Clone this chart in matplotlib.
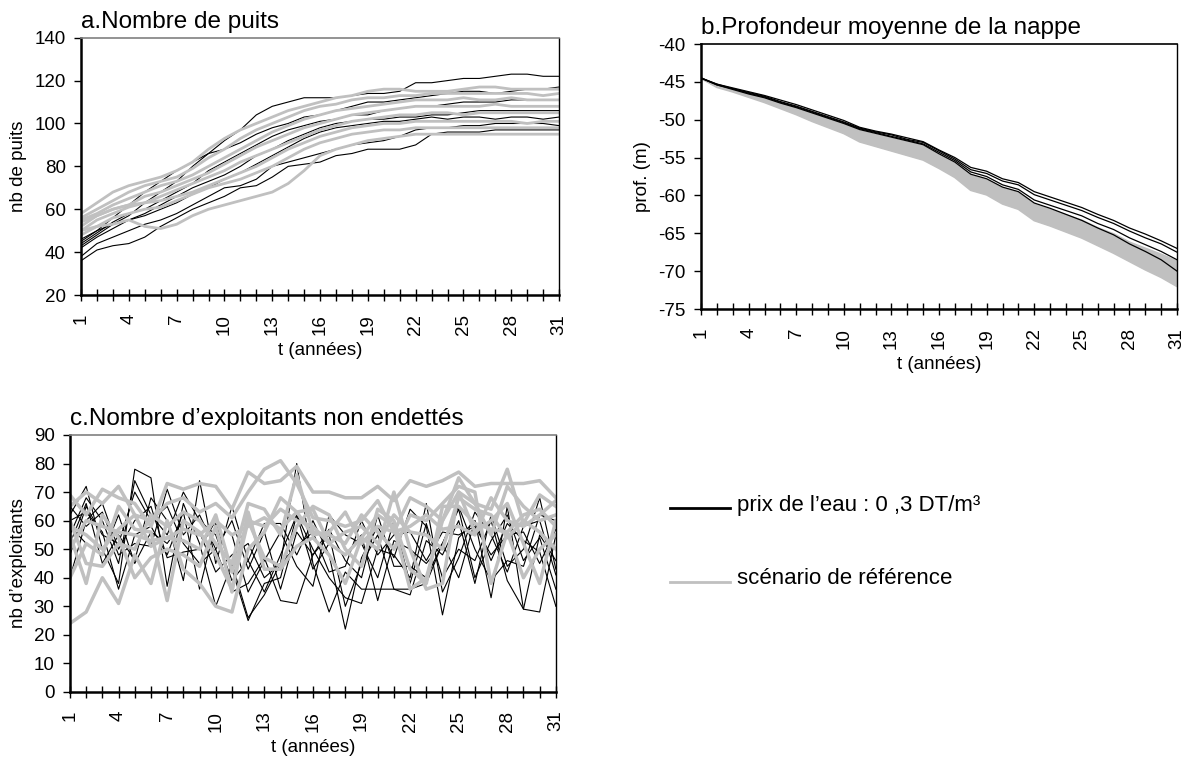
import matplotlib
matplotlib.use('Agg')
import matplotlib.pyplot as plt
from matplotlib.lines import Line2D

plt.rcParams['font.family'] = ['Liberation Sans', 'DejaVu Sans']
plt.rcParams['axes.unicode_minus'] = False

t = list(range(1, 32))
xtick_labels = [1, 4, 7, 10, 13, 16, 19, 22, 25, 28, 31]

# a. nombre de puits
a_black = [
    [45, 50, 56, 62, 68, 73, 78, 82, 86, 92, 97, 104, 108, 110, 112, 112, 112, 113, 114, 114, 115, 119, 119, 120, 121, 121, 122, 123, 123, 122, 122],
    [43, 48, 53, 57, 63, 68, 73, 80, 86, 88, 91, 95, 98, 100, 103, 104, 106, 108, 110, 110, 111, 112, 113, 114, 115, 115, 114, 115, 116, 116, 117],
    [44, 49, 54, 58, 60, 64, 68, 72, 78, 82, 86, 90, 94, 97, 99, 101, 102, 104, 104, 106, 107, 108, 108, 109, 110, 110, 110, 111, 111, 111, 111],
    [42, 47, 51, 55, 58, 62, 66, 70, 73, 76, 80, 85, 88, 92, 95, 98, 100, 101, 102, 102, 103, 103, 104, 104, 105, 106, 106, 106, 106, 106, 106],
    [46, 50, 53, 55, 57, 60, 63, 67, 70, 74, 77, 81, 85, 89, 93, 96, 98, 99, 100, 101, 101, 102, 103, 102, 103, 103, 102, 103, 103, 102, 103],
    [38, 44, 47, 50, 53, 55, 58, 62, 66, 70, 71, 74, 80, 82, 84, 86, 88, 90, 91, 92, 94, 97, 98, 98, 99, 99, 100, 100, 100, 100, 99],
    [36, 41, 43, 44, 47, 52, 56, 60, 63, 66, 70, 71, 75, 80, 81, 82, 85, 86, 88, 88, 88, 90, 95, 96, 96, 96, 97, 97, 97, 97, 97],
]
a_grey = [
    [58, 63, 68, 71, 73, 75, 78, 82, 88, 93, 97, 100, 103, 106, 108, 110, 112, 113, 115, 116, 116, 115, 115, 115, 116, 117, 117, 116, 116, 116, 116],
    [56, 60, 64, 68, 71, 73, 75, 79, 84, 88, 93, 97, 100, 103, 106, 108, 109, 111, 112, 112, 113, 113, 114, 114, 114, 114, 114, 114, 114, 113, 114],
    [55, 58, 62, 65, 68, 71, 73, 76, 80, 84, 88, 92, 96, 99, 102, 104, 106, 107, 108, 109, 110, 111, 111, 111, 112, 111, 111, 112, 111, 111, 111],
    [52, 57, 60, 62, 66, 68, 71, 74, 77, 81, 85, 89, 92, 95, 98, 100, 102, 104, 105, 106, 107, 108, 108, 108, 108, 108, 109, 108, 108, 108, 108],
    [50, 55, 58, 61, 63, 66, 69, 72, 75, 78, 82, 85, 88, 91, 94, 97, 99, 101, 102, 103, 104, 104, 105, 105, 104, 105, 105, 105, 105, 105, 105],
    [54, 57, 60, 62, 63, 64, 66, 68, 71, 74, 77, 80, 84, 88, 91, 94, 96, 98, 99, 100, 100, 101, 101, 101, 101, 101, 101, 101, 100, 101, 101],
    [48, 52, 56, 58, 60, 61, 64, 67, 70, 72, 74, 77, 80, 84, 88, 91, 93, 95, 96, 97, 97, 98, 98, 98, 98, 98, 98, 98, 98, 98, 98],
    [50, 52, 53, 55, 52, 51, 53, 57, 60, 62, 64, 66, 68, 72, 78, 85, 88, 90, 92, 93, 94, 95, 95, 95, 95, 95, 95, 95, 95, 95, 95],
]

# b. profondeur moyenne de la nappe
b_black = [
    [-44.5, -45.3, -45.8, -46.3, -46.8, -47.4, -48.0, -48.7, -49.4, -50.1, -51.0, -51.5, -51.9, -52.4, -52.9, -54.0, -55.0, -56.3, -56.8, -57.8, -58.3, -59.5, -60.2, -60.9, -61.6, -62.5, -63.3, -64.3, -65.1, -66.0, -67.0],
    [-44.5, -45.3, -45.9, -46.4, -46.9, -47.6, -48.2, -48.9, -49.6, -50.3, -51.1, -51.6, -52.0, -52.6, -53.0, -54.1, -55.2, -56.6, -57.1, -58.1, -58.6, -59.9, -60.6, -61.3, -62.0, -62.9, -63.7, -64.7, -65.6, -66.4, -67.5],
    [-44.5, -45.4, -45.9, -46.5, -47.0, -47.7, -48.3, -49.0, -49.7, -50.4, -51.2, -51.7, -52.2, -52.7, -53.2, -54.3, -55.4, -56.9, -57.5, -58.6, -59.2, -60.6, -61.3, -62.0, -62.7, -63.7, -64.5, -65.6, -66.5, -67.4, -68.5],
    [-44.5, -45.4, -46.0, -46.6, -47.1, -47.8, -48.4, -49.1, -49.8, -50.5, -51.3, -51.8, -52.3, -52.8, -53.3, -54.5, -55.6, -57.2, -57.8, -58.9, -59.5, -61.0, -61.7, -62.5, -63.3, -64.3, -65.2, -66.4, -67.4, -68.5, -70.0],
]
b_grey = [
    [-44.5, -45.4, -46.0, -46.6, -47.1, -47.8, -48.5, -49.2, -49.9, -50.6, -51.5, -52.0, -52.5, -53.0, -53.5, -54.7, -55.8, -57.4, -58.0, -59.1, -59.7, -61.2, -61.9, -62.6, -63.3, -64.3, -65.1, -66.2, -67.0, -67.8, -68.7],
    [-44.5, -45.5, -46.1, -46.8, -47.3, -48.0, -48.8, -49.6, -50.3, -51.0, -52.0, -52.5, -53.1, -53.6, -54.2, -55.3, -56.5, -58.1, -58.7, -59.9, -60.5, -62.0, -62.7, -63.5, -64.2, -65.2, -66.1, -67.2, -68.1, -69.0, -70.0],
    [-44.5, -45.6, -46.2, -46.9, -47.5, -48.3, -49.1, -49.9, -50.7, -51.4, -52.5, -53.0, -53.6, -54.2, -54.8, -55.9, -57.1, -58.7, -59.3, -60.5, -61.2, -62.7, -63.4, -64.2, -64.9, -65.9, -66.9, -68.0, -69.0, -70.0, -71.1],
    [-44.5, -45.7, -46.3, -47.0, -47.7, -48.5, -49.3, -50.2, -51.0, -51.8, -52.9, -53.5, -54.1, -54.7, -55.3, -56.4, -57.6, -59.3, -59.9, -61.1, -61.8, -63.3, -64.0, -64.8, -65.6, -66.6, -67.6, -68.7, -69.8, -70.8, -72.0],
]

# c. nombre d'exploitants non endettes
c_black = [
    [62, 72, 50, 38, 78, 75, 37, 66, 52, 30, 45, 26, 34, 45, 80, 45, 28, 42, 36, 36, 36, 36, 38, 52, 40, 60, 33, 65, 29, 28, 55],
    [55, 68, 60, 45, 74, 62, 55, 70, 60, 55, 39, 46, 59, 59, 48, 60, 48, 22, 47, 58, 47, 64, 58, 27, 54, 60, 46, 59, 53, 49, 30],
    [48, 65, 55, 52, 70, 60, 65, 52, 45, 50, 35, 38, 47, 32, 31, 48, 55, 30, 45, 55, 36, 34, 53, 48, 60, 38, 62, 44, 50, 68, 43],
    [60, 63, 56, 36, 55, 58, 48, 63, 36, 59, 43, 25, 38, 40, 62, 50, 40, 33, 31, 50, 48, 40, 66, 35, 47, 63, 55, 42, 58, 60, 41],
    [52, 66, 45, 55, 46, 68, 60, 39, 74, 45, 65, 46, 35, 48, 62, 43, 52, 48, 55, 32, 53, 50, 45, 52, 64, 40, 53, 62, 46, 54, 36],
    [65, 58, 63, 48, 52, 51, 71, 55, 62, 50, 60, 43, 56, 36, 56, 48, 57, 46, 40, 62, 44, 44, 40, 52, 65, 50, 39, 46, 44, 62, 60],
    [40, 60, 66, 50, 60, 65, 47, 49, 50, 60, 55, 35, 46, 56, 44, 37, 62, 55, 52, 40, 60, 38, 59, 40, 50, 46, 60, 39, 29, 55, 46],
    [58, 52, 48, 62, 45, 56, 52, 60, 56, 42, 48, 52, 40, 45, 51, 56, 42, 44, 60, 48, 55, 56, 46, 56, 55, 58, 48, 55, 56, 45, 57],
]
c_grey = [
    [69, 62, 71, 68, 66, 58, 73, 71, 73, 72, 64, 77, 73, 74, 79, 70, 70, 68, 68, 72, 67, 74, 72, 74, 77, 72, 73, 73, 73, 74, 68],
    [65, 70, 66, 72, 62, 60, 66, 68, 63, 66, 61, 70, 78, 81, 73, 61, 60, 58, 60, 67, 56, 68, 65, 60, 75, 66, 64, 78, 59, 69, 65],
    [24, 28, 40, 31, 48, 38, 60, 43, 38, 30, 28, 50, 56, 68, 63, 64, 52, 48, 54, 62, 58, 36, 40, 60, 70, 66, 55, 72, 65, 60, 62],
    [40, 52, 48, 65, 57, 56, 32, 60, 56, 48, 36, 60, 47, 44, 58, 65, 62, 50, 44, 64, 60, 43, 38, 65, 65, 59, 57, 56, 40, 50, 55],
    [55, 38, 62, 54, 40, 47, 50, 48, 44, 58, 35, 63, 43, 43, 51, 54, 48, 38, 54, 50, 70, 50, 36, 38, 70, 56, 60, 66, 52, 38, 60],
    [60, 45, 44, 52, 50, 62, 58, 63, 60, 52, 45, 66, 64, 55, 76, 56, 55, 52, 62, 56, 50, 62, 60, 66, 72, 70, 38, 56, 62, 64, 58],
    [50, 60, 58, 56, 55, 53, 54, 53, 50, 62, 42, 60, 58, 64, 60, 58, 52, 56, 58, 52, 62, 56, 55, 50, 68, 64, 62, 54, 60, 56, 50],
    [58, 55, 50, 57, 62, 51, 54, 57, 55, 60, 55, 58, 61, 57, 63, 55, 56, 63, 52, 58, 56, 58, 62, 57, 58, 55, 68, 60, 58, 62, 67],
]

GREY = '#c0c0c0'


def style_axis(ax, title, ylabel, ylim, ystep, top_color):
    ax.set_xlim(1, 31)
    ax.set_ylim(*ylim)
    ax.set_xticks(t)
    ax.set_xticklabels([str(v) if v in xtick_labels else '' for v in t], rotation=90)
    ax.set_yticks(list(range(ylim[0], ylim[1] + 1, ystep)))
    ax.tick_params(axis='x', direction='inout', length=9, width=1, labelsize=13.5, pad=9)
    ax.tick_params(axis='y', direction='out', length=5, width=1, labelsize=13.5, pad=6)
    ax.set_title(title, loc='left', fontsize=17.5, pad=7)
    ax.set_ylabel(ylabel, fontsize=13.5, labelpad=5)
    ax.set_xlabel('t (années)', fontsize=13.5, labelpad=5)
    ax.spines['left'].set_linewidth(1.8)
    ax.spines['bottom'].set_linewidth(1.8)
    ax.spines['top'].set_color(top_color)
    ax.spines['top'].set_linewidth(1.2)
    ax.spines['right'].set_linewidth(1.0)


fig = plt.figure(figsize=(11.88, 7.6), dpi=100)

ax_a = fig.add_axes([0.0682, 0.6118, 0.4024, 0.3386])
for s in a_black:
    ax_a.plot(t, s, color='black', lw=0.8)
for s in a_grey:
    ax_a.plot(t, s, color=GREY, lw=2.0)
style_axis(ax_a, 'a.Nombre de puits', 'nb de puits', (20, 140), 20, '#808080')

ax_b = fig.add_axes([0.5901, 0.5934, 0.4007, 0.3487])
ax_b.fill_between(t, b_grey[0], b_grey[-1], color=GREY, lw=0)
for s in b_grey:
    ax_b.plot(t, s, color=GREY, lw=1.5)
for s in b_black:
    ax_b.plot(t, s, color='black', lw=0.9)
style_axis(ax_b, 'b.Profondeur moyenne de la nappe', 'prof. (m)', (-75, -40), 5, 'black')

ax_c = fig.add_axes([0.0589, 0.0895, 0.4090, 0.3382])
for s in c_black:
    ax_c.plot(t, s, color='black', lw=0.8)
for s in c_grey:
    ax_c.plot(t, s, color=GREY, lw=2.5)
style_axis(ax_c, 'c.Nombre d\u2019exploitants non endettés', 'nb d\u2019exploitants', (0, 90), 10, '#808080')

# legend
fig.add_artist(Line2D([670 / 1188, 730 / 1188], [1 - 508 / 760] * 2, color='black', lw=2))
fig.add_artist(Line2D([670 / 1188, 730 / 1188], [1 - 582 / 760] * 2, color=GREY, lw=2))
fig.text(737 / 1188, 1 - 506 / 760, 'prix de l\u2019eau : 0 ,3 DT/m\u00b3', fontsize=16, va='center')
fig.text(737 / 1188, 1 - 578 / 760, 'scénario de référence', fontsize=16, va='center')

fig.savefig('out.png', dpi=100)
